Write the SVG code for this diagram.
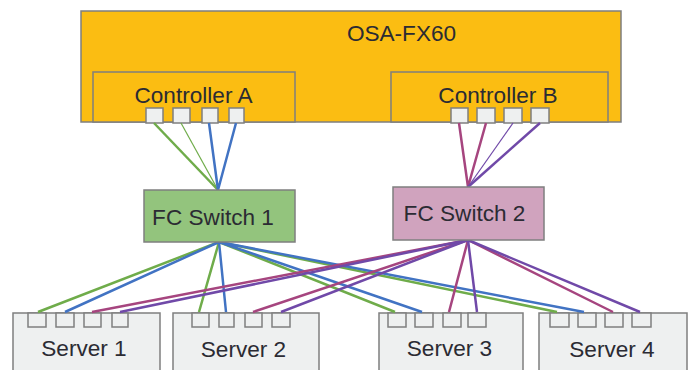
<svg xmlns="http://www.w3.org/2000/svg" width="691" height="370" viewBox="0 0 691 370">
<style>
text{font-family:"Liberation Sans",Arial,sans-serif;font-size:22.6px;fill:#2b2b33;text-anchor:middle}
.b{stroke:#7f7f7f;stroke-width:1.5}
.o{fill:#fbbd12}
.g{fill:#eef0f0}
.p{fill:#eef0f0;stroke:#7f7f7f;stroke-width:1.5}
.l{fill:none;stroke-width:2.5}
.t{stroke-width:1.2}
.gr{stroke:#6fac4a}.bl{stroke:#4173c3}.ma{stroke:#a6457f}.pu{stroke:#7049a8}
</style>
<rect width="691" height="370" fill="#fff"/>
<g id="osa-fx60">
<rect class="b o" x="81" y="11" width="540" height="111"/>
<text x="401.500" y="41">OSA-FX60</text>
</g>
<g id="controller-a">
<rect class="b o" x="93" y="72" width="202" height="50"/>
<text x="193.500" y="103">Controller A</text>
<rect class="p" x="146" y="108" width="17" height="15"/><rect class="p" x="173" y="108" width="17" height="15"/><rect class="p" x="202" y="108" width="16" height="15"/><rect class="p" x="229" y="108" width="15" height="15"/>
</g>
<g id="controller-b">
<rect class="b o" x="391" y="72" width="217" height="50"/>
<text x="498" y="103">Controller B</text>
<rect class="p" x="451" y="108" width="17" height="15"/><rect class="p" x="477" y="108" width="18" height="15"/><rect class="p" x="504" y="108" width="18" height="15"/><rect class="p" x="531" y="108" width="18" height="15"/>
</g>
<g id="server-1">
<rect class="b g" x="13" y="313" width="147" height="60"/>
<rect class="p" x="28" y="313" width="18" height="14"/><rect class="p" x="56" y="313" width="18" height="14"/><rect class="p" x="84" y="313" width="17" height="14"/><rect class="p" x="112" y="313" width="16" height="14"/>
<text x="84" y="356">Server 1</text>
</g>
<g id="server-2">
<rect class="b g" x="173" y="313" width="146" height="60"/>
<rect class="p" x="192" y="313" width="17" height="14"/><rect class="p" x="219" y="313" width="15" height="14"/><rect class="p" x="245" y="313" width="17" height="14"/><rect class="p" x="272" y="313" width="18" height="14"/>
<text x="243.500" y="357">Server 2</text>
</g>
<g id="server-3">
<rect class="b g" x="379" y="313" width="144" height="60"/>
<rect class="p" x="388" y="313" width="18" height="14"/><rect class="p" x="415" y="313" width="18" height="14"/><rect class="p" x="443" y="313" width="18" height="14"/><rect class="p" x="468" y="313" width="18" height="14"/>
<text x="449.500" y="356">Server 3</text>
</g>
<g id="server-4">
<rect class="b g" x="539" y="313" width="148" height="60"/>
<rect class="p" x="550" y="313" width="19" height="14"/><rect class="p" x="578" y="313" width="18" height="14"/><rect class="p" x="605" y="313" width="18" height="14"/><rect class="p" x="632" y="313" width="19" height="14"/>
<text x="612" y="357">Server 4</text>
</g>
<g id="connectors">
<path class="l gr" d="M154 123L218 190"/>
<path class="l gr t" d="M181 123L218 190"/>
<path class="l bl" d="M209 123L218 190M236 123L218 190"/>
<path class="l ma" d="M459 123L468 187M486 123L468 187"/>
<path class="l pu t" d="M513 123L468 187"/>
<path class="l pu" d="M540 123L468 187"/>
<path class="l gr" d="M219 242L38 312M219 242L199 312M219 242L395 312M219 242L557 312"/>
<path class="l bl" d="M219 242L65 312M219 242L226 312M219 242L422 312M219 242L584 312"/>
<path class="l ma" d="M468 240L92 312M468 240L253 312M468 240L449 312M468 240L613 312"/>
<path class="l pu" d="M468 240L120 312M468 240L281 312M468 240L477 312M468 240L640 312"/>
</g>
<g id="fc-switch-1">
<rect class="b" fill="#93c47d" x="144" y="190" width="151" height="52"/>
<text x="213" y="225">FC Switch 1</text>
</g>
<g id="fc-switch-2">
<rect class="b" fill="#d0a3be" x="393" y="187" width="151" height="53"/>
<text x="464.500" y="221">FC Switch 2</text>
</g>
</svg>
